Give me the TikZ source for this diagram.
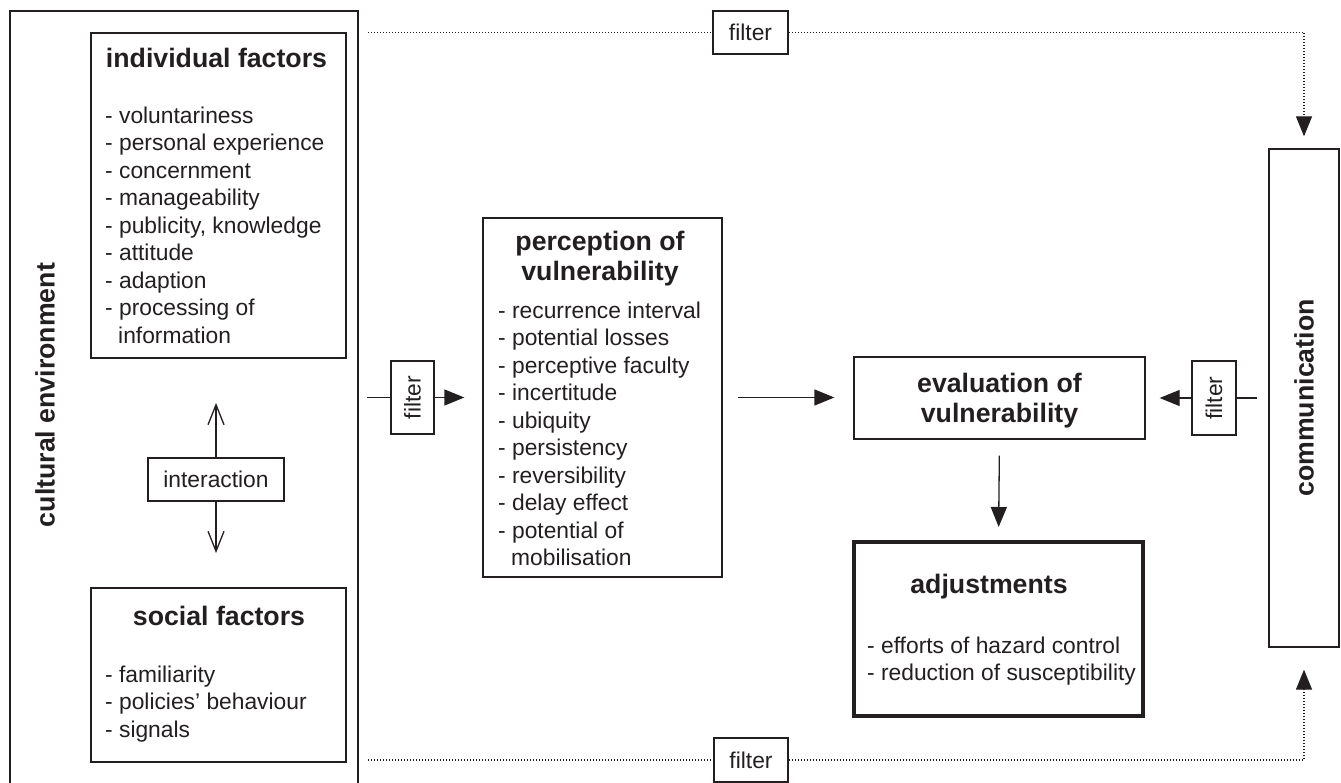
\documentclass[tikz,border=0pt]{standalone}
\usepackage{fontspec}
\setmainfont{Liberation Sans}
\usepackage{graphicx}
\usetikzlibrary{arrows.meta}
\definecolor{ink}{HTML}{231F20}
\begin{document}
\begin{tikzpicture}[x=1pt,y=-1pt,
  every node/.style={text=ink},
  reg/.style={font=\fontsize{22.8}{27.5}\selectfont},
  bld/.style={font=\fontsize{26.7}{30.5}\selectfont\bfseries},
  frame/.style={draw=ink, line width=1.3pt, inner sep=0pt},
  txt/.style={inner sep=0pt},
  conn/.style={draw=ink, line width=1.3pt},
  tri/.style={-{Triangle[length=20pt,width=16pt]}},
  barb/.style={-{Straight Barb[length=20pt,width=16pt]}},
  dots/.style={draw=ink, line width=1.2pt, dash pattern=on 1.2pt off 1.8pt}]
\useasboundingbox (0,0) rectangle (1341,783);

% cultural environment (open at bottom)
\draw[draw=ink, line width=1.4pt] (10,784) -- (10,11) -- (358,11) -- (358,784);
\node[bld, txt, rotate=90] (cult) at (45,395) {cultural environment};

% individual factors
\node[frame, minimum width=255pt, minimum height=325pt] (indiv) at (218.5,195.5) {};
\node[bld, txt, anchor=base] (indivT) at (216.5,68) {individual factors};
\node[reg, txt, anchor=north west, align=left] (indivL) at (105,103.75)
  {\strut- voluntariness\\- personal experience\\- concernment\\- manageability\\- publicity, knowledge\\- attitude\\- adaption\\- processing of\\\hspace*{13pt}information};

% social factors
\node[frame, minimum width=255pt, minimum height=174pt] (social) at (218.5,675) {};
\node[bld, txt, anchor=base] (socialT) at (219,625) {social factors};
\node[reg, txt, anchor=north west, align=left] (socialL) at (105,662.75)
  {\strut- familiarity\\- policies’ behaviour\\- signals};

% interaction
\node[frame, reg, minimum width=136pt, minimum height=43pt] (inter) at (216,479.5) {interaction};
\coordinate (interU) at (216,403);
\coordinate (interD) at (216,553);
\draw[conn, barb] (inter.north) -- (interU);
\draw[conn, barb] (inter.south) -- (interD);

% perception
\node[frame, minimum width=239pt, minimum height=359pt] (perc) at (602.5,397.5) {};
\node[bld, txt, anchor=north, align=center] (percT) at (600,228.65) {\strut perception of\\vulnerability};
\node[reg, txt, anchor=north west, align=left] (percL) at (498,298.75)
  {\strut- recurrence interval\\- potential losses\\- perceptive faculty\\- incertitude\\- ubiquity\\- persistency\\- reversibility\\- delay effect\\- potential of\\\hspace*{13pt}mobilisation};

% left filter
\node[frame, reg, minimum width=43pt, minimum height=73pt] (filterL) at (412.5,397.5) {\rotatebox{90}{filter}};
\coordinate (fLin) at (367,397.5);
\draw[conn] (fLin) -- (filterL.west);
\draw[conn, tri, shorten >=18pt] (filterL.east) -- (perc.west);

% evaluation
\node[frame, minimum width=291pt, minimum height=82pt] (eval) at (999.5,398) {};
\node[bld, txt, anchor=north, align=center] (evalT) at (999.5,370.65) {\strut evaluation of\\vulnerability};
\draw[conn, tri, shorten <=15pt, shorten >=19pt] (perc.east) -- (perc.east -| eval.west);

% adjustments
\node[draw=ink, line width=4pt, inner sep=0pt, minimum width=289pt, minimum height=174pt] (adj) at (998.5,629) {};
\node[bld, txt, anchor=base] (adjT) at (989,593) {adjustments};
\node[reg, txt, anchor=north west, align=left] (adjL) at (867,633.75)
  {\strut- efforts of hazard control\\- reduction of susceptibility};
\draw[conn, tri, shorten <=16pt, shorten >=13pt] (eval.south) -- (adj.north);

% communication
\node[frame, bld, minimum width=70pt, minimum height=498pt] (comm) at (1304,398) {\rotatebox{90}{communication}};

% right filter
\node[frame, reg, minimum width=44pt, minimum height=74pt] (filterR) at (1214,398) {\rotatebox{90}{filter}};
\draw[conn, shorten <=11pt] (comm.west |- filterR.east) -- (filterR.east);
\draw[conn, tri, shorten >=14pt] (filterR.west) -- (eval.east);

% top filter
\node[frame, reg, minimum width=75pt, minimum height=43pt] (filterT) at (750.5,32.5) {filter};
\coordinate (tStart) at (368,32.5);
\draw[dots] (tStart) -- (filterT.west);
\draw[dots, tri, shorten >=12pt] (filterT.east) -- (filterT.east -| comm.north) -- (comm.north);

% bottom filter
\node[frame, reg, minimum width=74pt, minimum height=44pt] (filterB) at (751,760) {filter};
\coordinate (bStart) at (368,760);
\draw[dots] (bStart) -- (filterB.west);
\draw[dots, tri, shorten >=22pt] (filterB.east) -- (filterB.east -| comm.south) -- (comm.south);
\end{tikzpicture}
\end{document}
